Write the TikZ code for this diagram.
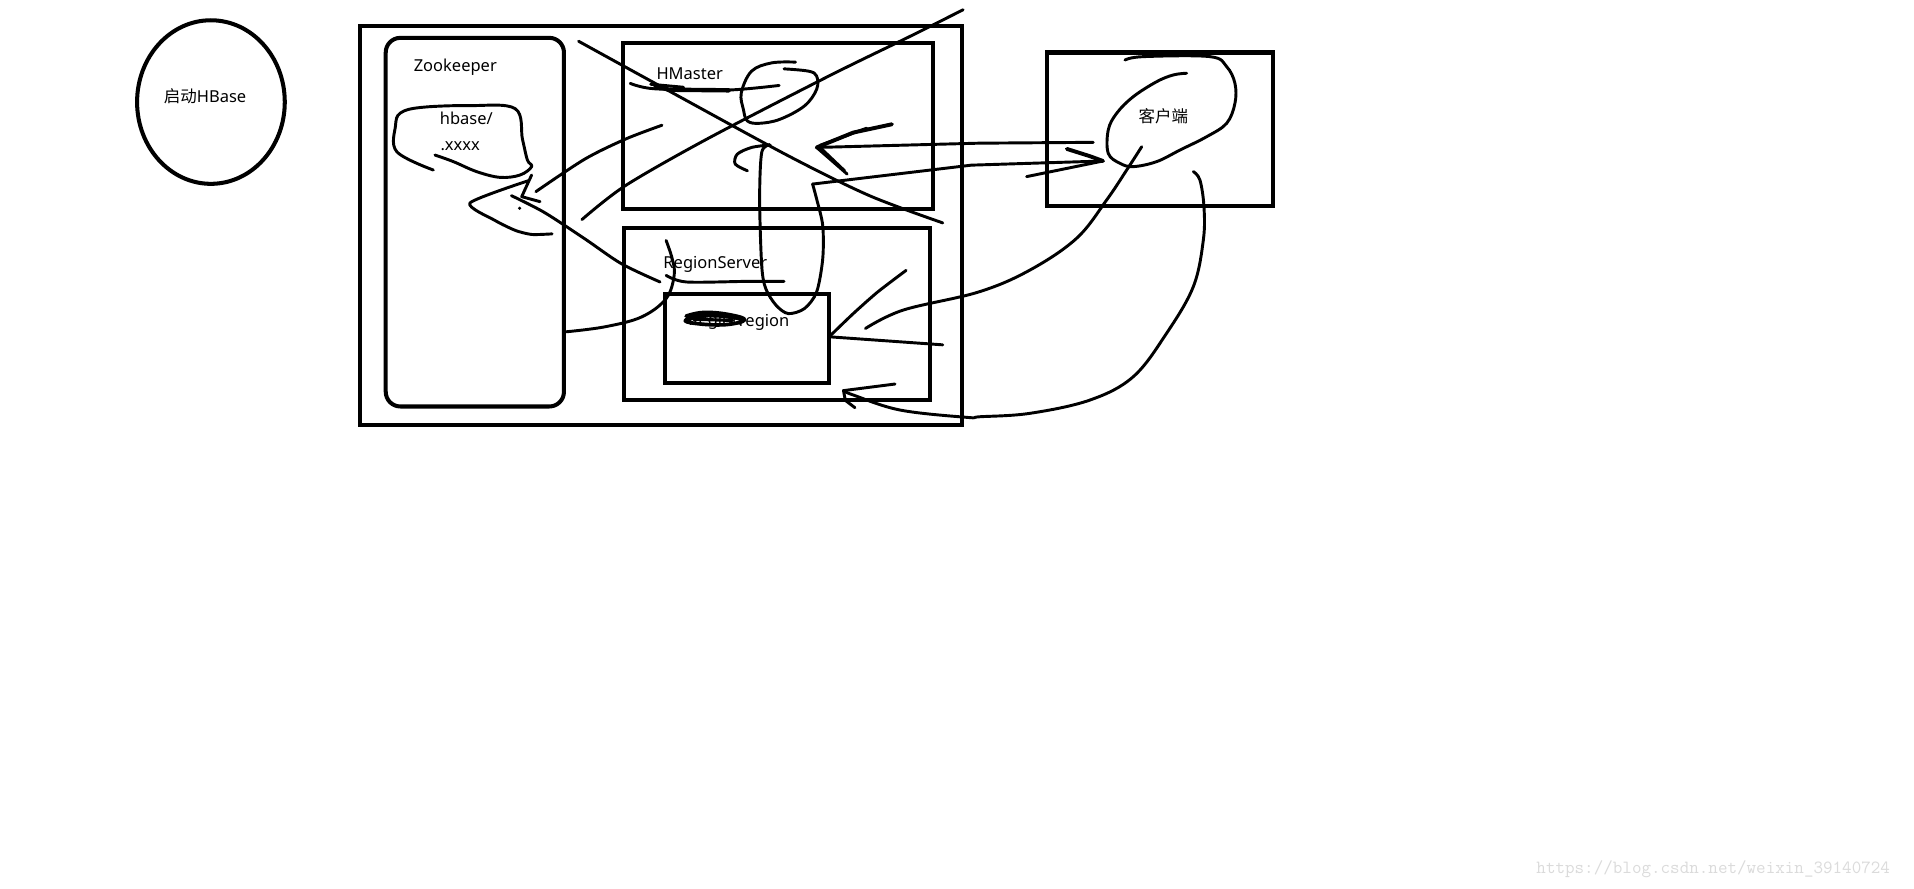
\documentclass[tikz,border=0pt]{standalone}
\usepackage{fontspec}
\usetikzlibrary{shapes.geometric}
\setmainfont{Noto Sans}
\newfontfamily\cjk{Noto Sans CJK SC}
\begin{document}
\begin{tikzpicture}[x=1pt,y=-1pt,
  box/.style={draw, line width=3.3pt, inner sep=0pt},
  sk/.style={line width=2.4pt, line cap=round, line join=round},
  lbl/.style={font=\fontsize{13.5}{16}\selectfont, inner sep=0pt, text=black},
  wm/.style={font=\ttfamily\fontsize{15.2}{18}\selectfont, inner sep=0pt, text=black!14}]
\useasboundingbox[fill=white] (0,0) rectangle (1568,728);

% shapes
\node[box, ellipse, minimum width=121pt, minimum height=134pt] (start) at (172.8,83.6) {};
\node[box, minimum width=493pt, minimum height=327pt] (outer) at (541.5,184.5) {};
\node[box, rounded corners=12pt, minimum width=146pt, minimum height=302pt] (zk) at (389,182) {};
\node[box, minimum width=254pt, minimum height=136pt] (hm) at (637,103) {};
\node[box, minimum width=251pt, minimum height=141pt] (rs) at (636.5,257.5) {};
\node[box, minimum width=134pt, minimum height=73pt] (reg) at (612,277.5) {};
\node[box, minimum width=185pt, minimum height=126pt] (cl) at (950.5,106) {};

% labels
\node[lbl] (tstart) at (168,79) {{\cjk 启动}HBase};
\node[lbl] (tzk) at (373,55) {Zookeeper};
\node[lbl] (thb) at (382,97) {hbase/};
\node[lbl] (txx) at (377,120) {.xxxx};
\node[lbl] (thm) at (565,60) {HMaster};
\node[lbl] (trs) at (586,217) {RegionServer};
\node[lbl] (tRg) at (586,263) {Region};
\node[lbl] (trg) at (626,264) {region};
\node[lbl] (tcl) at (953,95) {\cjk 客户端};
\node[wm] (wmk) at (1403.5,712) {https://blog.csdn.net/weixin\_39140724};

% scribble over "Region"
\draw[sk, line width=3pt] plot[smooth, tension=0.7] coordinates {(562,259) (576,256) (596,257.5) (610,262) (594,266) (570,265) (562,262) (582,258.5) (606,261)};
\draw[sk, line width=2.6pt] (568,261.5) -- (600,262.5);

% hbase blob
\draw[sk] plot[smooth, tension=0.6] coordinates {(355,139.3) (325,124.2) (324,103) (328,92.6) (345,88) (385,86.5) (422,89) (428,114) (432,131) (435.5,136.5) (426,143.4) (409.6,145.3) (390.5,140.6) (371.4,132.4) (356.3,127)};

% "<" near hbase
\draw[sk] plot[smooth, tension=0.4] coordinates {(433,148) (385,166.3) (405.7,180.7) (422.3,188.8) (435.7,192.1) (452.3,191.6)};
\draw[sk] (435.5,143.4) -- (427.4,161.1) -- (442.4,165.2);
\fill (425.7,170.6) circle (1.4pt);

% line HMaster -> hbase
\draw[sk] plot[smooth, tension=0.5] coordinates {(439,157) (479,130.4) (512.3,114) (542.3,102.6)};

% long diagonal up-right
\draw[sk] plot[smooth, tension=0.5] coordinates {(476.7,179.9) (512.3,152.1) (579,114) (679,62.3) (745.7,29.7) (789,8)};

% long diagonal down-right
\draw[sk] plot[smooth, tension=0.5] coordinates {(474,33.8) (545.7,73.2) (645.7,127.6) (712.3,160.3) (772.3,182.6)};

% HMaster underline scribble
\draw[sk] plot[smooth, tension=0.5] coordinates {(516.3,68.3) (535.7,72.7) (595.7,73.8) (638.3,70)};
\draw[sk, line width=3.6pt] (537,70.5) -- (548,73.5) -- (597,74);
\draw[sk] (533,69) -- (560,71.5);

% loop near HMaster
\draw[sk] plot[smooth, tension=0.6] coordinates {(651.7,50.9) (632.3,51.5) (615.7,58.3) (607.3,76) (609,89.6) (612.3,99.1) (622.3,101) (639,97.7) (659,86.8) (669,73.2) (669,62.3) (662.3,58.3) (642.3,56.4)};

% vertical loop into region, then to client
\draw[sk] plot[smooth, tension=0.5] coordinates {(612.3,139.9) (602.3,134.4) (604,126.3) (615.7,120.8) (630.7,118.7)};
\draw[sk] plot[smooth, tension=0.5] coordinates {(630.7,118.7) (624,124.9) (622.3,163) (624,217.4) (627.3,236.4) (635.7,250) (645.7,256.9) (659,252.8) (669,239.2) (674,212) (674,184.8) (669,163) (665.7,150.8)};
\draw[sk] (665.7,150.8) -- (795.7,135.3) -- (903.6,131.9);
\draw[sk, line width=3.2pt] (874,122) -- (893,128) -- (903.6,131.9);
\draw[sk] (841,144.7) -- (903.6,131.9);

% arrow from client into HMaster
\draw[sk] (669,120.8) -- (801.7,117.3) -- (895.6,116.6);
\draw[sk, line width=3.2pt] (730.7,101.8) -- (699,108.6) -- (669,120.8);
\draw[sk] (672,119) -- (710,105);
\draw[sk] (669,120.8) -- (694,142.6);
\draw[sk] (672,121) -- (692,140);

% RegionServer underline
\draw[sk] plot[smooth, tension=0.5] coordinates {(545.7,225.6) (562.3,231) (612.3,230.5) (642.3,230.5)};

% curve Zookeeper -> region
\draw[sk] plot[smooth, tension=0.6] coordinates {(464,271.8) (495.7,267.7) (525.7,259.6) (545.7,244.6) (552.3,225.6) (550.7,212) (545.7,197)};

% line from "<" to RegionServer
\draw[sk] plot[smooth, tension=0.5] coordinates {(419,160.3) (445.7,173.9) (479,195.6) (509,216) (540.7,231)};

% ">" at region right
\draw[sk] plot[smooth, tension=0.4] coordinates {(742.3,221.5) (719,239.2) (699,256.9) (680.7,274.5)};
\draw[sk] (680.7,276) -- (772.3,282.5);

% curve from client to RegionServer
\draw[sk] plot[smooth, tension=0.6] coordinates {(709,269.1) (740,254) (801.7,239.2) (843.8,221.2) (882,195.2) (906.6,163.8) (923,139.3) (935.3,120.2)};

% big curve from client bottom to RegionServer bottom
\draw[sk] plot[smooth, tension=0.6] coordinates {(977.6,140.6) (983,147.5) (986.3,169.3) (985.8,196.6) (977.6,234.8) (955.7,273) (928.4,308.6) (893,327.7) (843.8,338.6) (802.8,341.4) (791.9,341.9) (737.3,335.9) (699,323.6) (691,320)};
\draw[sk] (733.2,314.6) -- (691,320) -- (692.5,328) -- (700.4,334);

% loop around client text
\draw[sk] plot[smooth, tension=0.6] coordinates {(921.6,49.2) (936.6,46.4) (991.2,46.4) (1004.9,54.6) (1011.7,68.3) (1011.7,84.6) (1004.9,101) (988.5,112) (966.7,122.9) (947.6,132.4) (928.4,136.5) (917.5,133.8) (907.9,125.6) (907.9,106.5) (914.8,92.8) (928.4,79.2) (947.6,66.9) (961.2,61.4) (972.1,60)};
\end{tikzpicture}
\end{document}
